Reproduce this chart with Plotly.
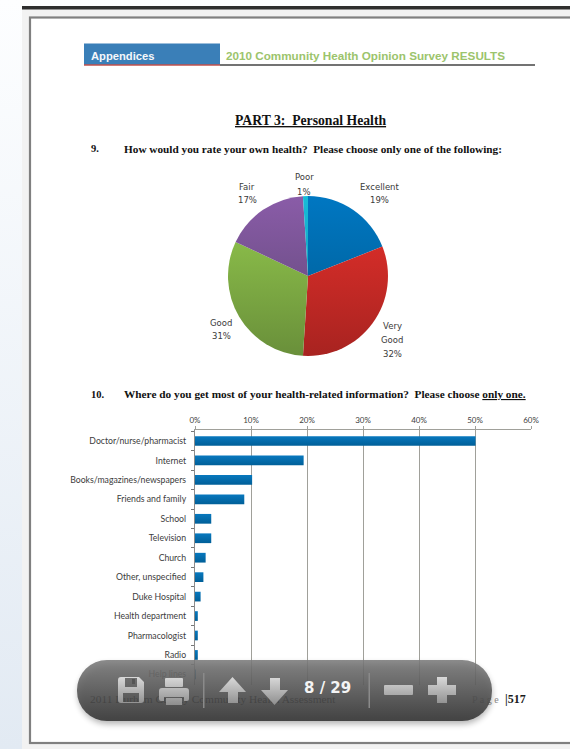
import base64
import plotly.graph_objects as go

W, H = 570, 749

# Question 9: self-rated health
rating_labels = ["Excellent", "Very Good", "Good", "Fair", "Poor"]
rating_values = [19, 32, 31, 17, 1]
rating_colors = ["#0069aa", "#cd2b27", "#80b045", "#74528f", "#12a9c9"]
rating_top = ["#0077c2", "#e7312c", "#95cb4e", "#8a5ca8", "#17bcd8"]
rating_bottom = ["#005a8e", "#a82320", "#698f3a", "#5c4673", "#0f93ad"]
rating_label_lines = [["Excellent"], ["Very", "Good"], ["Good"], ["Fair"], ["Poor"]]

# Question 10: sources of health information
source_labels = [
    "Doctor/nurse/pharmacist", "Internet", "Books/magazines/newspapers",
    "Friends and family", "School", "Television", "Church",
    "Other, unspecified", "Duke Hospital", "Health department",
    "Pharmacologist", "Radio", "Help lines",
]
source_values = [50.1, 19.4, 10.2, 8.8, 2.9, 2.9, 1.9, 1.5, 1.0, 0.5, 0.5, 0.5, 0.1]
percent_ticks = [0, 10, 20, 30, 40, 50, 60]


def px(x):
    return x / W


def py(y):
    return 1 - y / H


def data_uri(svg):
    return "data:image/svg+xml;base64," + base64.b64encode(svg.encode()).decode()


# Viewer chrome around the page
backdrop_svg = f"""<svg xmlns="http://www.w3.org/2000/svg" width="{W}" height="{H}" viewBox="0 0 {W} {H}">
<defs><linearGradient id="side" x1="0" y1="0" x2="0" y2="1">
<stop offset="0" stop-color="#fdfeff"/><stop offset="1" stop-color="#e2eaf3"/></linearGradient></defs>
<rect x="0" y="0" width="{W}" height="{H}" fill="url(#side)"/>
<rect x="22" y="9" width="{W - 22}" height="{H - 9}" fill="#f2f2f2"/>
<rect x="22" y="6" width="{W - 22}" height="3.5" fill="#2e2e2e"/>
<rect x="30" y="17.5" width="{W - 30 + 5}" height="725.5" fill="#ffffff" stroke="#808080" stroke-width="2.2"/>
</svg>"""

# Floating toolbar; icons are drawn in window pixels
toolbar_svg = f"""<svg xmlns="http://www.w3.org/2000/svg" width="{W}" height="{H}" viewBox="0 0 {W} {H}">
<defs>
<linearGradient id="pill" x1="0" y1="0" x2="0" y2="1">
<stop offset="0" stop-color="#7c7c7c"/><stop offset="1" stop-color="#333333"/></linearGradient>
<linearGradient id="icon" gradientUnits="userSpaceOnUse" x1="0" y1="676" x2="0" y2="705">
<stop offset="0" stop-color="#dcdcdc"/><stop offset="1" stop-color="#8e8e8e"/></linearGradient>
<filter id="soft" x="-10%" y="-30%" width="120%" height="170%"><feGaussianBlur stdDeviation="3"/></filter>
</defs>
<rect x="78" y="664" width="414" height="60" rx="30" fill="#000" opacity="0.3" filter="url(#soft)"/>
<rect x="77" y="660" width="415" height="61" rx="30" fill="url(#pill)" fill-opacity="0.88"/>
<g fill="url(#icon)">
<path fill-rule="evenodd" d="M118 680 q0 -3 3 -3 h18 l5 5 v18 q0 3 -3 3 h-20 q-3 0 -3 -3 z M125 678 v9 h12 v-9 z M123 693 v9 h16 v-9 z"/>
<rect x="132" y="679" width="3" height="5" fill="#555"/>
<rect x="165" y="678" width="18" height="9" rx="1"/>
<path fill-rule="evenodd" d="M162 688 h24 q3 0 3 3 v8 q0 2 -2 2 h-3 v-4 h-20 v4 h-3 q-2 0 -2 -2 v-8 q0 -3 3 -3 z"/>
<rect x="166" y="698" width="16" height="7"/>
<path d="M232.5 677 L246 692 H238 V703 H228 V692 H219 Z"/>
<path d="M270 678 H280 V690 H288 L274.5 705 L261 690 H270 Z"/>
<rect x="384" y="685" width="29" height="10" rx="1"/>
<path d="M437 677 H447 V685 H456 V695 H447 V703 H437 V695 H428 V685 H437 Z"/>
</g>
<rect x="203" y="673" width="1.5" height="35" fill="#8a8a8a"/>
<rect x="368.5" y="673" width="1.5" height="35" fill="#8a8a8a"/>
</svg>"""

fig = go.Figure()

fig.add_trace(go.Pie(
    labels=rating_labels, values=rating_values, sort=False, direction="clockwise",
    rotation=0, textinfo="none", hoverinfo="label+percent",
    marker=dict(colors=rating_colors, line=dict(width=0)),
    domain=dict(x=[px(228), px(388)], y=[py(356), py(196)]),
    showlegend=False,
))

fig.add_trace(go.Bar(
    x=source_values, y=source_labels, orientation="h",
    marker=dict(color="#006aa8", line=dict(width=0)),
    xaxis="x", yaxis="y", showlegend=False,
))

# Footer sits under the toolbar, so it goes in as a text trace on a pixel-scaled overlay
footer_x = [90, 472, 505]
footer_y = [700, 700, 700]
footer_text = [
    "2011 Durham County Community Health Assessment",
    "P a g e",
    "<b>|517</b>",
]
fig.add_trace(go.Scatter(
    x=footer_x, y=footer_y, text=footer_text, mode="text", textposition="middle right",
    textfont=dict(family="Liberation Serif", size=[11.4, 10, 12], color=["#1a1a1a", "#8a8a8a", "#1a1a1a"]),
    xaxis="x2", yaxis="y2", hoverinfo="skip", showlegend=False, cliponaxis=False,
))

annotations = []


def label(x, y, text, family, size, color, anchor="center"):
    annotations.append(dict(
        x=px(x), y=py(y), xref="paper", yref="paper", text=text, showarrow=False,
        xanchor=anchor, yanchor="middle", align=anchor, borderpad=0,
        font=dict(family=family, size=size, color=color),
    ))


SERIF = "Liberation Serif"
SANS = "Liberation Sans"
label(90, 55.5, "<b>Appendices</b>", SANS, 11.2, "#f4f7fb", "left")
label(225, 55.5, "<b>2010 Community Health Opinion Survey RESULTS</b>", SANS, 11.7, "#9cc46c", "left")
label(310, 120, "<b><u>PART 3:  Personal Health</u></b>", SERIF, 13.7, "#111111")
label(90, 149, "<b>9.</b>", SERIF, 10.5, "#111111", "left")
label(123, 149, "<b>How would you rate your own health?  Please choose only one of the following:</b>",
      SERIF, 11.25, "#111111", "left")
label(90, 394, "<b>10.</b>", SERIF, 10.5, "#111111", "left")
label(123, 394, "<b>Where do you get most of your health-related information?  Please choose <u>only one.</u></b>",
      SERIF, 11.3, "#111111", "left")

# Pie captions: name lines followed by the share
caption_x = [379, 392, 221, 247, 304]
caption_top = [187, 326, 323, 187, 177]
caption_step = [13, 14, 13, 13, 15]
for lines, value, x, y, step in zip(rating_label_lines, rating_values, caption_x, caption_top, caption_step):
    for i, line in enumerate(lines + [f"{value}%"]):
        label(x, y + i * step, line, "DejaVu Sans", 8.5, "#3a3a3a")

label(327, 688, "<b>8 / 29</b>", "DejaVu Sans", 15, "#f4f4f4")

fig.update_layout(
    width=W, height=H, autosize=False,
    margin=dict(l=0, r=0, t=0, b=0, pad=0, autoexpand=False),
    paper_bgcolor="#ffffff", plot_bgcolor="rgba(0,0,0,0)",
    bargap=0.5,
    hovermode=False,
    xaxis=dict(
        domain=[px(195), px(531)], range=[0, 60], side="top", anchor="y", automargin=False,
        tickvals=percent_ticks, ticktext=[f"{t}%" for t in percent_ticks],
        tickfont=dict(family="Lato", size=8, color="#404040"),
        ticks="outside", ticklen=3, tickcolor="#a0a09a", showline=True, linecolor="#a0a09a", linewidth=1.3,
        showgrid=True, gridcolor="#a0a09a", gridwidth=1.4, zeroline=False, fixedrange=True,
    ),
    yaxis=dict(
        domain=[py(685), py(430)], anchor="x", type="category", automargin=False,
        categoryorder="array", categoryarray=source_labels,
        range=[12.545, -0.566],
        tickfont=dict(family="Lato", size=8.7, color="#3c3c3c"),
        ticks="outside", ticklen=3, tickson="boundaries", tickcolor="#777777",
        ticklabelstandoff=6,
        showline=True, linecolor="#8c8c8c", linewidth=1.3, showgrid=False, zeroline=False, fixedrange=True,
    ),
    xaxis2=dict(domain=[0, 1], range=[0, W], anchor="y2", visible=False, fixedrange=True, automargin=False),
    yaxis2=dict(domain=[0, 1], range=[H, 0], anchor="x2", visible=False, fixedrange=True, automargin=False),
    annotations=annotations,
    shapes=[
        dict(type="rect", xref="paper", yref="paper", x0=px(84), x1=px(220), y0=py(43.5), y1=py(65),
             fillcolor="#3a7fb8", line=dict(width=0), layer="below"),
        dict(type="line", xref="paper", yref="paper", x0=px(84), x1=px(220), y0=py(65), y1=py(65),
             line=dict(color="#c0504d", width=1.5), layer="below"),
        dict(type="line", xref="paper", yref="paper", x0=px(220), x1=px(535), y0=py(65), y1=py(65),
             line=dict(color="#444444", width=1.3), layer="below"),
    ],
    images=[
        dict(source=data_uri(backdrop_svg), xref="paper", yref="paper", x=0, y=1, sizex=1, sizey=1,
             sizing="stretch", xanchor="left", yanchor="top", layer="below"),
        dict(source=data_uri(toolbar_svg), xref="paper", yref="paper", x=0, y=1, sizex=1, sizey=1,
             sizing="stretch", xanchor="left", yanchor="top", layer="above"),
    ],
)

# Vertical shading on the pie slices and the bars
shading = """
var root = document.getElementById('{plot_id}');
var svg = root.querySelector('.main-svg');
var NS = 'http://www.w3.org/2000/svg';
var defs = document.createElementNS(NS, 'defs');
svg.insertBefore(defs, svg.firstChild);
function gradient(id, top, bottom, inUser) {
  var g = document.createElementNS(NS, 'linearGradient');
  g.setAttribute('id', id);
  g.setAttribute('x1', '0'); g.setAttribute('x2', '0');
  if (inUser) {
    g.setAttribute('gradientUnits', 'userSpaceOnUse');
    g.setAttribute('y1', '196'); g.setAttribute('y2', '356');
  } else {
    g.setAttribute('y1', '0'); g.setAttribute('y2', '1');
  }
  [[0, top], [1, bottom]].forEach(function (s) {
    var stop = document.createElementNS(NS, 'stop');
    stop.setAttribute('offset', s[0]);
    stop.setAttribute('stop-color', s[1]);
    g.appendChild(stop);
  });
  defs.appendChild(g);
}
var tops = TOPS, bottoms = BOTTOMS;
root.querySelectorAll('.pielayer .slice path.surface').forEach(function (p, i) {
  gradient('slice' + i, tops[i], bottoms[i], true);
  p.style.fill = 'url(#slice' + i + ')';
});
gradient('barfill', '#0878be', '#005f98', false);
root.querySelectorAll('.barlayer .point path').forEach(function (p) {
  p.style.fill = 'url(#barfill)';
});
""".replace("TOPS", repr(rating_top)).replace("BOTTOMS", repr(rating_bottom))

fig.write_html("out.html", post_script=shading, config={"displayModeBar": False})
